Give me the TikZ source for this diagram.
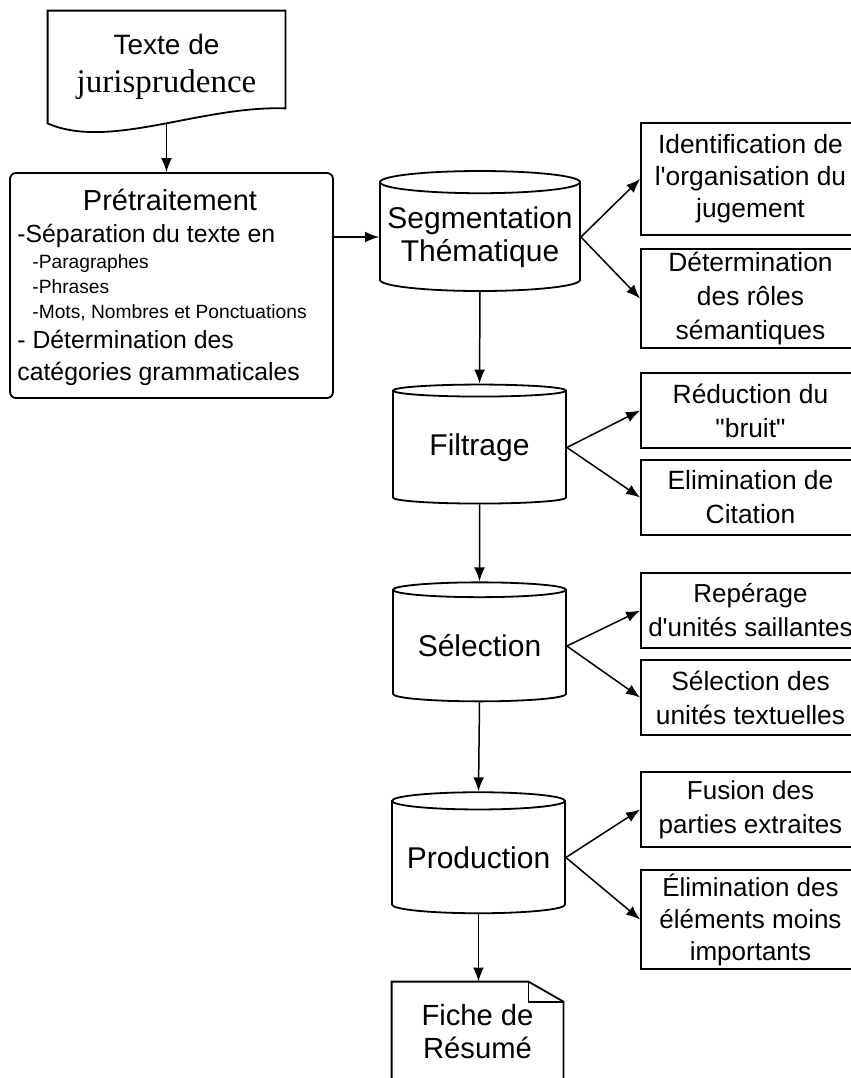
\documentclass[tikz,border=0pt]{standalone}
\usepackage{fontspec}
\setmainfont{Liberation Sans}
\newfontfamily\jurfont{Liberation Serif}
\usetikzlibrary{shapes,arrows,positioning,calc,arrows.meta}

\tikzset{
  ligne/.style={line width=0.9pt},
  fleche/.style={line width=0.75pt, -{Latex[length=7pt,width=5.4pt]}},
  base/.style={cylinder, shape border rotate=90, draw, line width=0.9pt, aspect=0.12,
    inner sep=0pt, align=center, font=\fontsize{15}{16.5}\selectfont},
  tache/.style={draw, line width=0.9pt, rectangle, minimum width=109.5pt, inner sep=0pt,
    align=center, font=\fontsize{13.2}{17}\selectfont},
  petit/.style={anchor=base west, inner sep=0pt, font=\fontsize{9.6}{11}\selectfont},
  moyen/.style={anchor=base west, inner sep=0pt, font=\fontsize{12.4}{14}\selectfont}
}

\begin{document}
\begin{tikzpicture}[x=0.5pt,y=-0.5pt]
    \clip (0,0) rectangle (851,1078);
    \fill[white] (0,0) rectangle (851,1078);

    % Document source
    \node[minimum width=118.5pt, minimum height=56pt, inner sep=0pt, align=center,
        font=\fontsize{14}{19}\selectfont] (texte) at (166.5,67)
        {Texte de\\{\jurfont\fontsize{16.5}{19}\selectfont jurisprudence}};
    \draw[ligne] (texte.south west) -- (texte.north west) -- (texte.north east)
        -- ([yshift=7.5pt]texte.south east) .. controls +(-85,-3) and +(62,27) .. (texte.south west) -- cycle;

    % Pretraitement
    \node[draw, ligne, rounded corners=3pt, minimum width=161.5pt, minimum height=112.5pt] (pre) at (171.5,285.5) {};
    \node[anchor=base, inner sep=0pt, font=\fontsize{14.5}{16}\selectfont] (pretitre) at (170,210) {Prétraitement};
    \node[moyen] (presep) at (17,242) {-Séparation du texte en};
    \node[petit] (prepar) at (32,268) {-Paragraphes};
    \node[petit] (prephr) at (32,293) {-Phrases};
    \node[petit] (premot) at (32,318) {-Mots, Nombres et Ponctuations};
    \node[moyen] (predet) at (17,348) {- Détermination des};
    \node[moyen] (precat) at (17,380) {catégories grammaticales};

    % Etapes
    \node[base, minimum width=100pt, minimum height=60pt] (seg) at (480,237) {Segmentation\\Thématique};
    \node[base, minimum width=86.5pt, minimum height=59.5pt] (filt) at (479.5,447.5) {Filtrage};
    \node[base, minimum width=86.5pt, minimum height=59.5pt] (sel) at (479.5,646) {Sélection};
    \node[base, minimum width=86.5pt, minimum height=60.5pt] (prod) at (478.5,857.5) {Production};

    % Sous-taches
    \node[tache, minimum height=56pt, font=\fontsize{13.2}{16}\selectfont] (ident) at (750.5,179) {Identification de\\l\textquotesingle organisation du\\jugement};
    \node[tache, minimum height=49.5pt] (determ) at (750.5,298.5) {Détermination\\des rôles\\sémantiques};
    \node[tache, minimum height=37.5pt] (reduc) at (750.5,410.5) {Réduction du\\\textquotedbl bruit\textquotedbl};
    \node[tache, minimum height=37.5pt] (elimcit) at (750.5,497.5) {Elimination de\\Citation};
    \node[tache, minimum height=37.5pt, font=\fontsize{13}{17}\selectfont] (reper) at (750.5,610.5) {Repérage\\d\textquotesingle unités saillantes};
    \node[tache, minimum height=37.5pt] (seldes) at (750.5,697.5) {Sélection des\\unités textuelles};
    \node[tache, minimum height=37.5pt, font=\fontsize{13}{17}\selectfont] (fusion) at (750.5,809.5) {Fusion des\\parties extraites};
    \node[tache, minimum height=49.5pt, font=\fontsize{13}{16}\selectfont] (elimdes) at (750.5,919.5) {Élimination des\\éléments moins\\importants};

    % Fiche
    \node[minimum width=85.5pt, minimum height=49.5pt, inner sep=0pt, align=center,
        font=\fontsize{14.6}{16.5}\selectfont] (fiche) at (477.5,1031.5) {Fiche de\\Résumé};
    \draw[ligne] (fiche.south west) -- (fiche.north west) -- ([xshift=-17.5pt]fiche.north east)
        -- ([yshift=-10pt]fiche.north east) -- (fiche.south east);
    \draw[ligne] ([xshift=-17.5pt]fiche.north east) |- ([yshift=-10pt]fiche.north east);

    % Fleches
    \draw[fleche] (texte.south) -- (texte.south |- pre.north);
    \draw[fleche] (seg.west -| pre.east) -- (seg.west);
    \draw[fleche] (seg.south) -- (filt.north);
    \draw[fleche] (filt.south) -- (sel.north);
    \draw[fleche] (sel.south) -- (prod.north);
    \draw[fleche] (prod.south) -- (fiche.north -| prod.south);
    \draw[fleche] (seg.east) -- (ident.west);
    \draw[fleche] (seg.east) -- (determ.west);
    \draw[fleche] (filt.east) -- (reduc.west);
    \draw[fleche] (filt.east) -- (elimcit.west);
    \draw[fleche] (sel.east) -- (reper.west);
    \draw[fleche] (sel.east) -- (seldes.west);
    \draw[fleche] (prod.east) -- (fusion.west);
    \draw[fleche] (prod.east) -- (elimdes.west);
\end{tikzpicture}
\end{document}
